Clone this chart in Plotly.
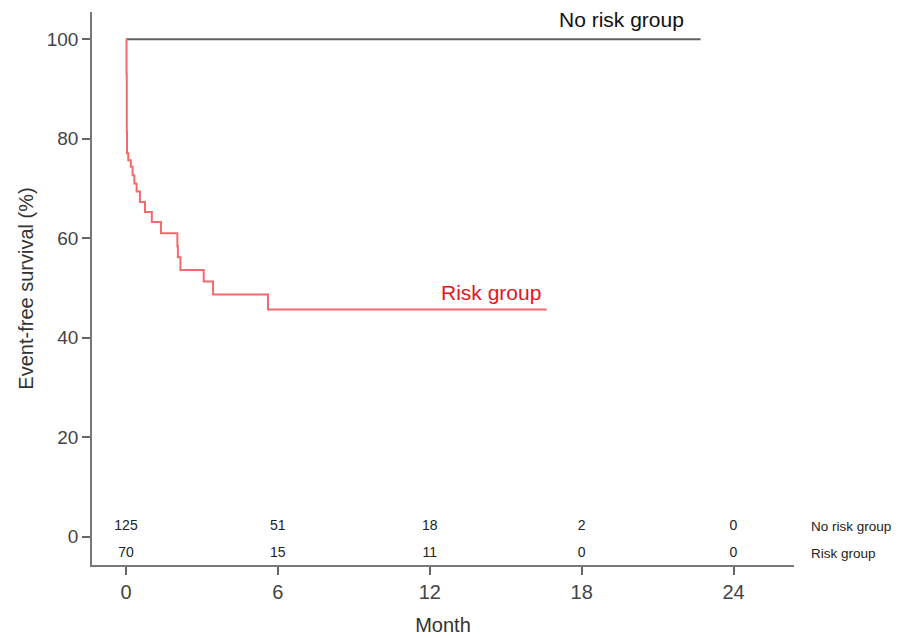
import plotly.graph_objects as go

# Kaplan-Meier data (months, survival %)
risk_time = [0, 0.02, 0.03, 0.04, 0.09, 0.19, 0.26, 0.33, 0.42, 0.55, 0.75, 1.02, 1.38,
             2.03, 2.05, 2.15, 3.07, 3.44, 5.61, 16.62]
risk_surv = [100, 93.2, 81.4, 77.1, 75.7, 74.4, 72.7, 71.0, 69.4, 67.3, 65.3, 63.3, 61.0,
             58.4, 56.2, 53.6, 51.3, 48.7, 45.7, 45.7]
norisk_time = [0, 22.7]
norisk_surv = [100, 100]

tick_months = [0, 6, 12, 18, 24]
y_ticks = [0, 20, 40, 60, 80, 100]
at_risk_norisk = [125, 51, 18, 2, 0]
at_risk_risk = [70, 15, 11, 0, 0]

FONT = "Liberation Sans, Arial, sans-serif"

fig = go.Figure()
fig.add_trace(go.Scatter(x=norisk_time, y=norisk_surv, mode="lines",
                         line=dict(color="#606060", width=2, shape="hv"),
                         showlegend=False, hoverinfo="skip"))
fig.add_trace(go.Scatter(x=risk_time, y=risk_surv, mode="lines",
                         line=dict(color="#f26a6a", width=2, shape="hv"),
                         showlegend=False, hoverinfo="skip"))

# Number at risk rows
fig.add_trace(go.Scatter(x=tick_months, y=[2.15] * len(tick_months), mode="text",
                         text=[str(v) for v in at_risk_norisk],
                         textfont=dict(family=FONT, size=14, color="#222"),
                         showlegend=False, hoverinfo="skip", cliponaxis=False))
fig.add_trace(go.Scatter(x=tick_months, y=[-3.35] * len(tick_months), mode="text",
                         text=[str(v) for v in at_risk_risk],
                         textfont=dict(family=FONT, size=14, color="#222"),
                         showlegend=False, hoverinfo="skip", cliponaxis=False))

fig.add_annotation(x=1.0, xref="paper", xanchor="left", xshift=15, y=2.15, yref="y",
                   text="No risk group", showarrow=False,
                   font=dict(family=FONT, size=13.5, color="#222"))
fig.add_annotation(x=1.0, xref="paper", xanchor="left", xshift=15, y=-3.35, yref="y",
                   text="Risk group", showarrow=False,
                   font=dict(family=FONT, size=13.5, color="#222"))

# Curve labels
fig.add_annotation(x=22.7, y=100, xanchor="right", yanchor="bottom", xshift=-15, yshift=6,
                   text="No risk group", showarrow=False,
                   font=dict(family=FONT, size=21, color="#111"))
fig.add_annotation(x=16.62, y=45.7, xanchor="right", yanchor="bottom", xshift=-4, yshift=3,
                   text="Risk group", showarrow=False,
                   font=dict(family=FONT, size=21, color="#e8141e"))

fig.update_layout(
    width=899, height=638,
    margin=dict(l=92, r=105, t=12, b=73),
    paper_bgcolor="white", plot_bgcolor="white",
    font=dict(family=FONT, size=19, color="#333"),
    xaxis=dict(range=[-1.343, 26.39], tickvals=tick_months, ticks="outside", ticklen=8,
               tickwidth=1.5, tickcolor="#666", showline=True, linecolor="#777", linewidth=1.5,
               showgrid=False, zeroline=False, tickfont=dict(size=20, color="#444"),
               automargin=False,
               title=dict(text="Month", font=dict(size=20, color="#333"), standoff=16)),
    yaxis=dict(range=[-5.69, 105.5], tickvals=y_ticks, ticks="outside", ticklen=8,
               tickwidth=1.5, tickcolor="#666", showline=True, linecolor="#777", linewidth=1.5,
               showgrid=False, zeroline=False, tickfont=dict(size=19, color="#444"),
               automargin=False,
               title=dict(text="Event-free survival (%)", font=dict(size=20, color="#333"), standoff=8)),
)

fig.write_html("out.html", config={"displayModeBar": False},
               post_script="document.body.style.margin='0';")
